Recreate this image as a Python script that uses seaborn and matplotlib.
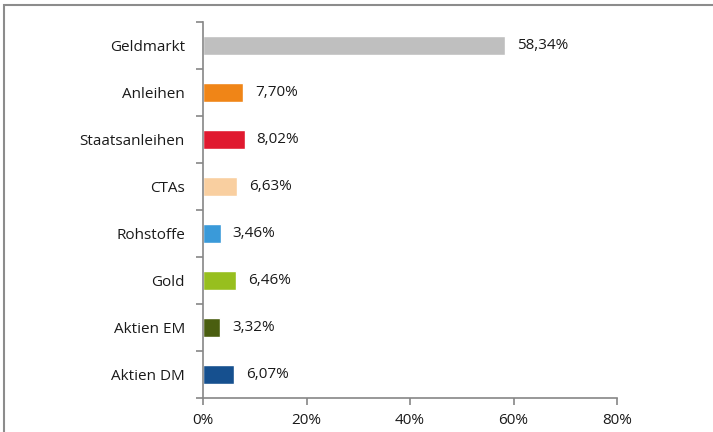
import matplotlib
matplotlib.use("Agg")
import matplotlib.pyplot as plt
import seaborn as sns
import pandas as pd
from matplotlib.patches import Rectangle
from matplotlib.ticker import FixedLocator, PercentFormatter

# data
categories = ["Geldmarkt", "Anleihen", "Staatsanleihen", "CTAs",
              "Rohstoffe", "Gold", "Aktien EM", "Aktien DM"]
values = [58.34, 7.70, 8.02, 6.63, 3.46, 6.46, 3.32, 6.07]
colors = ["#BFBFBF", "#F08517", "#E0192F", "#F9CFA0",
          "#3A9AD9", "#97BF1E", "#4A5E10", "#16508F"]
x_ticks = [0, 20, 40, 60, 80]

df = pd.DataFrame({"cat": categories, "val": values})

sns.set_theme(style="white")
plt.rcParams["font.family"] = ["Open Sans", "DejaVu Sans"]

fig = plt.figure(figsize=(7.13, 4.32), dpi=100)
ax = fig.add_axes([203 / 713, 1 - 398 / 432, (617 - 203) / 713, (398 - 22) / 432])

sns.barplot(data=df, y="cat", x="val", hue="cat", palette=colors,
            orient="h", width=0.42, legend=False, ax=ax, saturation=1)

ax.set_xlim(0, 80)
ax.set_ylim(len(categories) - 0.5, -0.5)
ax.set_xlabel("")
ax.set_ylabel("")

# value labels
for i, v in enumerate(values):
    ax.text(v + 2.3, i, f"{v:.2f}%".replace(".", ","), va="center",
            ha="left", fontsize=11, color="#1a1a1a")

# axis styling (Excel look)
grey = "#868686"
for s in ["top", "right"]:
    ax.spines[s].set_visible(False)
for s in ["left", "bottom"]:
    ax.spines[s].set_color(grey)
    ax.spines[s].set_linewidth(1.2)

ax.xaxis.set_major_locator(FixedLocator(x_ticks))
ax.xaxis.set_major_formatter(PercentFormatter(decimals=0))
ax.tick_params(axis="x", direction="out", length=5, width=1.2, color=grey,
               labelsize=11, labelcolor="#1a1a1a", pad=6, bottom=True)

# category ticks on boundaries, labels at centres
ax.yaxis.set_major_locator(FixedLocator(range(len(categories))))
ax.set_yticks([i - 0.5 for i in range(len(categories) + 1)], minor=True)
ax.tick_params(axis="y", which="major", length=0, labelsize=11,
               labelcolor="#1a1a1a", pad=13)
ax.tick_params(axis="y", which="minor", direction="out", length=5,
               width=1.2, color=grey, left=True)

# outer chart frame
fig.patches.append(Rectangle((3.5 / 713, -0.1), 1.2, 1 - 4.5 / 432 + 0.1,
                             transform=fig.transFigure, fill=False,
                             edgecolor="#8C8C8C", linewidth=1.5))

fig.savefig("out.png", dpi=100)
